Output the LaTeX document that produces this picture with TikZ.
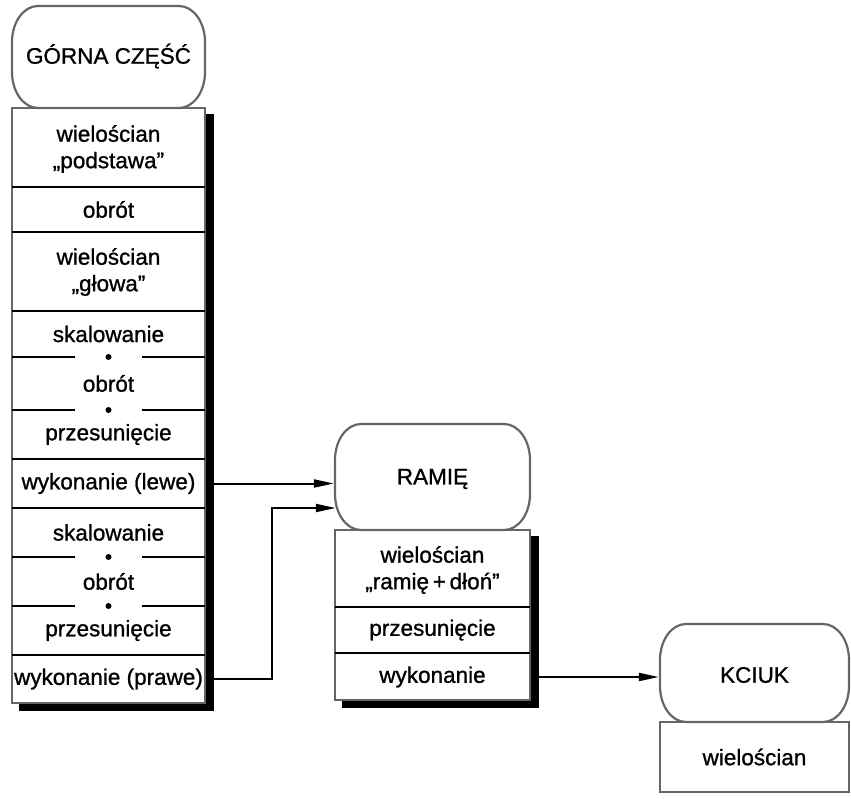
\documentclass[tikz,border=0pt]{standalone}
\usepackage{fontspec}
\setmainfont{Liberation Sans}[BoldFont=Liberation Sans, BoldFeatures={FakeBold=1}]
\usetikzlibrary{arrows.meta,backgrounds}

% capsule outline: flat top and bottom, elliptic corners (rx = 26, ry = 36)
% #1 = left, #2 = top, #3 = right, #4 = bottom
\newcommand{\capsuleoutline}[4]{%
  \draw[frame]
    ({#1+26},#2) -- ({#3-26},#2)
    .. controls ({#3-11.6},#2) and (#3,{#2+16.1}) .. (#3,{#2+36})
    -- (#3,{#4-36})
    .. controls (#3,{#4-16.1}) and ({#3-11.6},#4) .. ({#3-26},#4)
    -- ({#1+26},#4)
    .. controls ({#1+11.6},#4) and (#1,{#4-16.1}) .. (#1,{#4-36})
    -- (#1,{#2+36})
    .. controls (#1,{#2+16.1}) and ({#1+11.6},#2) .. cycle;}

\begin{document}
\begin{tikzpicture}[x=1pt,y=-1pt,
  frame/.style={draw=black!60, line width=2.2pt, fill=white, inner sep=0pt},
  header/.style={inner sep=0pt, font=\fontsize{22.5}{27}\selectfont\bfseries},
  cell/.style={inner sep=0pt, align=center, minimum width=193pt, font=\fontsize{22.5}{26.5}\selectfont\bfseries},
  sep/.style={line width=2pt},
  link/.style={line width=2pt, -{Triangle[length=20pt,width=8pt]}},
  dot/.style={circle, fill=black, inner sep=0pt, minimum size=6pt},
  shade/.style={fill=black}
]
\useasboundingbox (0,0) rectangle (851,799);

% ---------- GÓRNA CZĘŚĆ ----------
\node[frame, minimum width=193pt, minimum height=595pt] (gbox) at (108.5,405.5) {};
\capsuleoutline{12}{6}{205}{108}
\node[header, minimum width=193pt, minimum height=102pt] (gorna) at (108.5,56) {GÓRNA CZĘŚĆ};

\draw[sep] (12,187) -- (205,187);
\draw[sep] (12,232) -- (205,232);
\draw[sep] (12,311) -- (205,311);
\draw[sep] (12,357) -- (75,357);  \draw[sep] (142,357) -- (205,357);
\draw[sep] (12,410) -- (75,410);  \draw[sep] (142,410) -- (205,410);
\draw[sep] (12,459) -- (205,459);
\draw[sep] (12,508) -- (205,508);
\draw[sep] (12,557) -- (75,557);  \draw[sep] (142,557) -- (205,557);
\draw[sep] (12,606) -- (75,606);  \draw[sep] (142,606) -- (205,606);
\draw[sep] (12,655) -- (205,655);

\node[dot] (gd1) at (108.5,357) {};
\node[dot] (gd2) at (108.5,410) {};
\node[dot] (gd3) at (108.5,557) {};
\node[dot] (gd4) at (108.5,606) {};

\node[cell] (g1)  at (108.5,149)   {wielościan\\„podstawa”};
\node[cell] (g2)  at (108.5,209.5) {obrót};
\node[cell] (g3)  at (108.5,272)   {wielościan\\„głowa”};
\node[cell] (g4)  at (108.5,334)   {skalowanie};
\node[cell] (g5)  at (108.5,383.5) {obrót};
\node[cell] (g6)  at (108.5,434.5) {przesunięcie};
\node[cell] (g7)  at (108.5,483.5) {wykonanie (lewe)};
\node[cell] (g8)  at (108.5,532.5) {skalowanie};
\node[cell] (g9)  at (108.5,581.5) {obrót};
\node[cell] (g10) at (108.5,630.5) {przesunięcie};
\node[cell] (g11) at (108.5,679)   {wykonanie (prawe)};

% ---------- RAMIĘ ----------
\node[frame, minimum width=195pt, minimum height=170pt] (rbox) at (432.5,615) {};
\capsuleoutline{335}{424}{530}{530}
\node[header, minimum width=195pt, minimum height=106pt] (ramie) at (432.5,479) {RAMIĘ};

\draw[sep] (335,607) -- (530,607);
\draw[sep] (335,653) -- (530,653);

\node[cell, minimum width=195pt] (r1) at (432.5,570) {wielościan\\„ramię\,+\,dłoń”};
\node[cell, minimum width=195pt] (r2) at (432.5,630) {przesunięcie};
\node[cell, minimum width=195pt] (r3) at (432.5,677) {wykonanie};

% ---------- KCIUK ----------
\node[frame, minimum width=189pt, minimum height=70pt] (kbox) at (754.5,757) {};
\capsuleoutline{660}{624}{849}{722}
\node[header, minimum width=189pt, minimum height=98pt] (kciuk) at (754.5,675) {KCIUK};
\node[cell, minimum width=189pt] (k1) at (754.5,757) {wielościan};

% ---------- shadows ----------
\begin{scope}[on background layer]
  \fill[shade] ([shift={(8,7)}]gbox.north west) rectangle ([shift={(8,7)}]gbox.south east);
  \fill[shade] ([shift={(8,7)}]rbox.north west) rectangle ([shift={(8,7)}]rbox.south east);
\end{scope}

% ---------- connectors ----------
\coordinate (bend) at (272,508);
\draw[link] ([xshift=8pt]g7.east) -- ([xshift=-1pt]ramie.west |- g7.east);
\draw[link] ([xshift=8pt]g11.east) -| (bend) -- ([xshift=1pt]ramie.west |- bend);
\draw[link] ([xshift=8pt]r3.east) -- ([xshift=-1pt]kciuk.west |- r3.east);
\end{tikzpicture}
\end{document}
